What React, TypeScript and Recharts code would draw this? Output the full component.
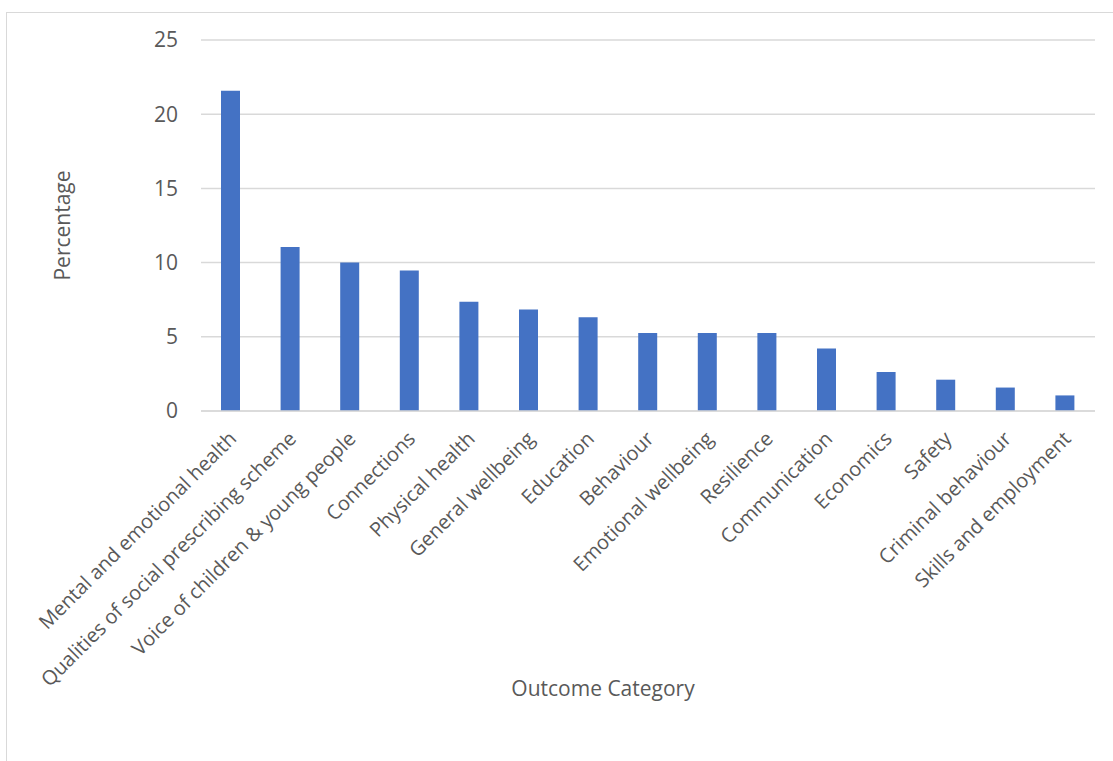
import React from "react";
import { BarChart, Bar, XAxis, YAxis, CartesianGrid, Label } from "recharts";

const categories = [
  "Mental and emotional health",
  "Qualities of social prescribing scheme",
  "Voice of children & young people",
  "Connections",
  "Physical health",
  "General wellbeing",
  "Education",
  "Behaviour",
  "Emotional wellbeing",
  "Resilience",
  "Communication",
  "Economics",
  "Safety",
  "Criminal behaviour",
  "Skills and employment",
];

const percentages = [21.58, 11.05, 10.0, 9.47, 7.37, 6.84, 6.32, 5.26, 5.26, 5.26, 4.21, 2.63, 2.11, 1.58, 1.05];

const yTicks = [0, 5, 10, 15, 20, 25];

const data = categories.map((c, i) => ({ category: c, value: percentages[i] }));

const FONT = "'Open Sans', sans-serif";
const TEXT = "#595959";
const FS = 21;
const TICK_FS = 20;

const XTick = (props: any) => {
  const { x, y, payload } = props;
  const ax = x + 2;
  const ay = y + 16;
  return (
    <text
      x={ax}
      y={ay}
      transform={`rotate(-45, ${ax}, ${ay})`}
      textAnchor="end"
      dy="0.35em"
      fill={TEXT}
      fontFamily={FONT}
      fontSize={TICK_FS}
    >
      {payload.value}
    </text>
  );
};

export default function App() {
  return (
    <div style={{ position: "absolute", left: 0, top: 0, width: 1113, height: 761, overflow: "hidden", background: "#fff" }}>
      <div
        style={{
          position: "absolute",
          left: 6,
          top: 12,
          width: 1130,
          height: 770,
          border: "1px solid #D9D9D9",
          boxSizing: "border-box",
        }}
      />
      <div style={{ position: "absolute", left: 0, top: 0 }}>
        <BarChart width={1113} height={761} data={data} margin={{ top: 40, right: 18, left: 0, bottom: 0 }} barCategoryGap="68%">
          <CartesianGrid vertical={false} stroke="#D9D9D9" strokeWidth={1.5} />
          <XAxis
            dataKey="category"
            interval={0}
            height={350}
            tickLine={false}
            axisLine={{ stroke: "#D9D9D9", strokeWidth: 1.5 }}
            tick={<XTick />}
          >
            <Label
              value="Outcome Category"
              position="insideBottom"
              offset={65}
              dx={-45}
              fill={TEXT}
              fontFamily={FONT}
              fontSize={FS}
            />
          </XAxis>
          <YAxis
            width={201}
            domain={[0, 25]}
            ticks={yTicks}
            tickLine={false}
            axisLine={false}
            tickSize={0}
            tickMargin={23}
            tick={{ fill: TEXT, fontFamily: FONT, fontSize: FS }}
          >
            <Label
              value="Percentage"
              angle={-90}
              position="insideLeft"
              offset={63}
              fill={TEXT}
              fontFamily={FONT}
              fontSize={FS}
              style={{ textAnchor: "middle" }}
            />
          </YAxis>
          <Bar dataKey="value" fill="#4472C4" barSize={19} isAnimationActive={false} />
        </BarChart>
      </div>
    </div>
  );
}
